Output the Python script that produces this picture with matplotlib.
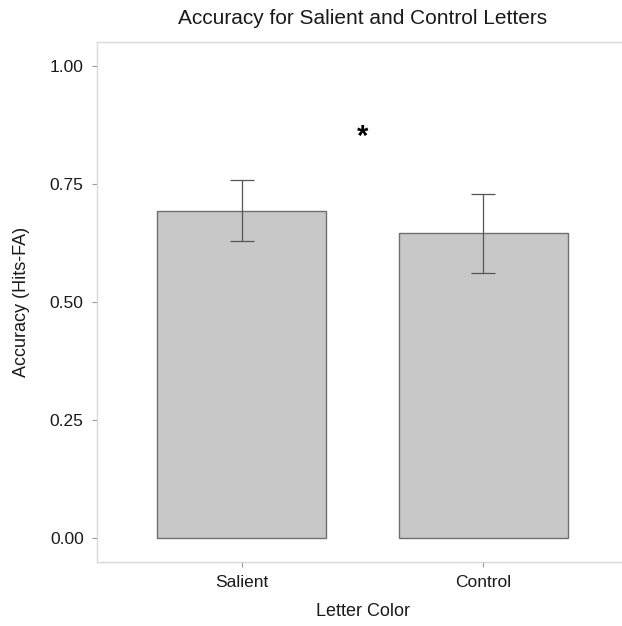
import matplotlib
matplotlib.use("Agg")
import matplotlib.pyplot as plt

plt.rcParams['font.family'] = ['Liberation Sans', 'DejaVu Sans']

# 数据
categories = ['Salient', 'Control']
accuracy = [0.693, 0.645]
err_low = [0.628, 0.562]
err_high = [0.759, 0.729]
y_ticks = [0.00, 0.25, 0.50, 0.75, 1.00]
y_tick_labels = ['0.00', '0.25', '0.50', '0.75', '1.00']
sig_pos = (1.5, 0.85)  # 星号位置

fig = plt.figure(figsize=(6.22, 6.26), dpi=100)
ax = fig.add_axes([97 / 622, 1 - 562 / 626, 531 / 622, 520 / 626])

x = [1, 2]
ax.bar(x, accuracy, width=0.7, color='#c8c8c8', edgecolor='#707070', linewidth=1.0, zorder=2)
lower = [a - l for a, l in zip(accuracy, err_low)]
upper = [h - a for a, h in zip(accuracy, err_high)]
ax.errorbar(x, accuracy, yerr=[lower, upper], fmt='none', ecolor='#555555',
            elinewidth=0.9, capsize=8.6, capthick=0.9, zorder=3)
ax.text(sig_pos[0], sig_pos[1], '*', ha='center', va='center', fontsize=21, fontweight='bold')

ax.set_xlim(0.4, 2.6)
ax.set_ylim(-0.05, 1.05)
ax.set_xticks(x)
ax.set_xticklabels(categories)
ax.set_yticks(y_ticks)
ax.set_yticklabels(y_tick_labels)

for s in ax.spines.values():
    s.set_color('#d9d9d9')
    s.set_linewidth(1.0)
ax.tick_params(axis='both', length=3.6, width=0.8, color='#999999', labelsize=12.5, labelcolor='#1a1a1a')
ax.tick_params(axis='y', pad=6)
ax.tick_params(axis='x', pad=6)

ax.set_xlabel('Letter Color', fontsize=13, color='#1a1a1a', labelpad=9)
ax.set_ylabel('Accuracy (Hits-FA)', fontsize=13, color='#1a1a1a', labelpad=14)
fig.text(363 / 622, 1 - 18 / 626, 'Accuracy for Salient and Control Letters', ha='center', va='center',
         fontsize=15, color='#1a1a1a')

fig.savefig('out.png', dpi=100)
